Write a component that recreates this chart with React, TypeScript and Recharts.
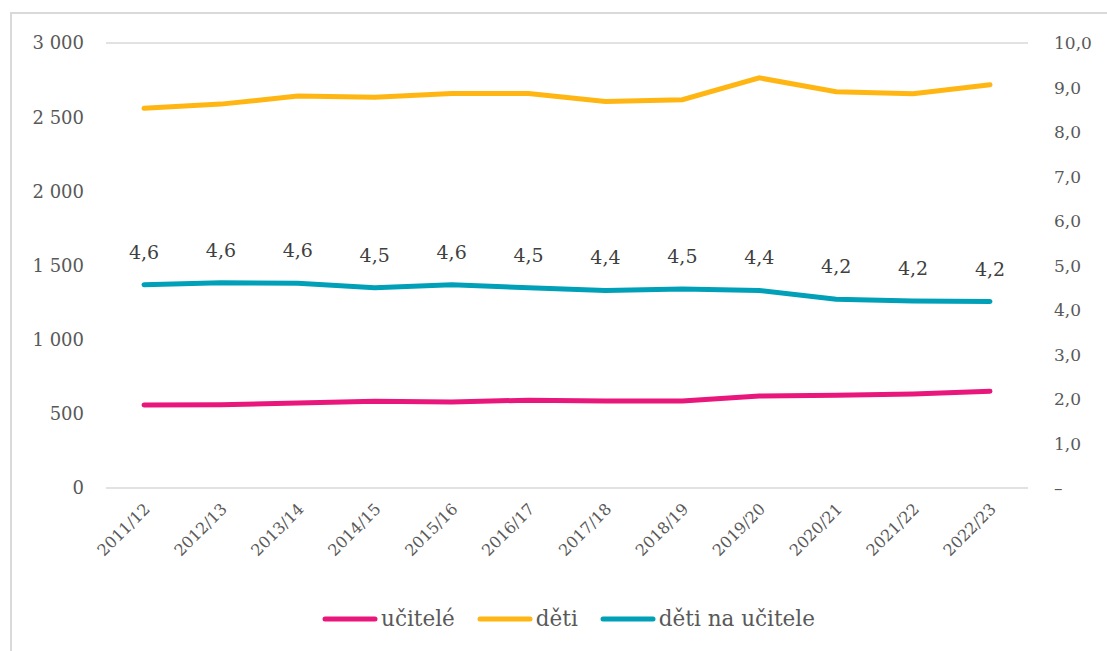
import React from "react";
import { LineChart, Line, XAxis, YAxis, CartesianGrid, Legend, LabelList } from "recharts";

const categories = ["2011/12", "2012/13", "2013/14", "2014/15", "2015/16", "2016/17", "2017/18", "2018/19", "2019/20", "2020/21", "2021/22", "2022/23"];
const ucitele = [560, 562, 573, 584, 580, 592, 586, 586, 620, 626, 634, 652];
const deti = [2560, 2588, 2642, 2635, 2660, 2660, 2605, 2618, 2765, 2672, 2658, 2718];
const detiNaUcitele = [4.57, 4.61, 4.6, 4.5, 4.57, 4.5, 4.44, 4.47, 4.44, 4.24, 4.2, 4.19];
const leftTicks = [0, 500, 1000, 1500, 2000, 2500, 3000];
const rightTicks = [0, 1, 2, 3, 4, 5, 6, 7, 8, 9, 10];

const data = categories.map((c, i) => ({
  cat: c,
  ucitele: ucitele[i],
  deti: deti[i],
  ratio: detiNaUcitele[i],
}));

const FONT = "'DejaVu Serif', 'Liberation Serif', serif";
const PINK = "#E9177B";
const YELLOW = "#FFB612";
const TEAL = "#00A0B8";

const fmtLeft = (v: number) => (v >= 1000 ? `${Math.floor(v / 1000)} ${String(v % 1000).padStart(3, "0")}` : String(v));
const fmtRight = (v: number) => (v === 0 ? "–" : v.toFixed(1).replace(".", ","));
const fmtLabel = (v: any) => Number(v).toFixed(1).replace(".", ",");

const XTick = (props: any) => {
  const { x, y, payload } = props;
  return (
    <g transform={`translate(${x + 7},${y + 14})`}>
      <text transform="rotate(-45)" textAnchor="end" fill="#595959" fontSize={16} fontFamily={FONT}>
        {payload.value}
      </text>
    </g>
  );
};

const LegendContent = (props: any) => {
  const items = [
    { label: "učitelé", color: PINK },
    { label: "děti", color: YELLOW },
    { label: "děti na učitele", color: TEAL },
  ];
  return (
    <div style={{ display: "flex", justifyContent: "center", alignItems: "center", fontFamily: FONT, fontSize: 21.5, color: "#595959" }}>
      {items.map((it, i) => (
        <div key={i} style={{ display: "flex", alignItems: "center", marginRight: i < 2 ? 22 : 0 }}>
          <svg width={56} height={10} style={{ marginRight: 3 }}>
            <line x1={3} y1={5} x2={53} y2={5} stroke={it.color} strokeWidth={5} strokeLinecap="round" />
          </svg>
          <span>{it.label}</span>
        </div>
      ))}
    </div>
  );
};

export default function App() {
  return (
    <div style={{ position: "absolute", left: 0, top: 0, width: 1107, height: 651, background: "#fff", overflow: "hidden" }}>
      <div style={{ position: "absolute", left: 10, top: 12, width: 1200, height: 700, borderLeft: "2px solid #d9d9d9", borderTop: "2px solid #d9d9d9" }} />
      <LineChart width={1107} height={651} data={data} margin={{ top: 43, right: 0, bottom: 73, left: 0 }}>
        <CartesianGrid vertical={false} stroke="#d9d9d9" strokeWidth={1.5} />
        <XAxis dataKey="cat" tick={<XTick />} tickLine={false} axisLine={false} height={90} interval={0} padding={{ left: 38, right: 38 }} />
        <YAxis
          yAxisId="left"
          width={106}
          domain={[0, 3000]}
          ticks={leftTicks}
          tickFormatter={fmtLeft}
          tickLine={false}
          axisLine={false}
          tickMargin={16}
          tick={{ fill: "#595959", fontSize: 18, fontFamily: FONT }}
        />
        <YAxis
          yAxisId="right"
          orientation="right"
          width={79}
          domain={[0, 10]}
          ticks={rightTicks}
          tickFormatter={fmtRight}
          tickLine={false}
          axisLine={false}
          tickMargin={20}
          tick={{ fill: "#595959", fontSize: 17, fontFamily: FONT, textAnchor: "start" }}
        />
        <Legend
          layout="horizontal"
          verticalAlign="middle"
          align="center"
          wrapperStyle={{ top: 606, left: 30, width: 1077 }}
          content={<LegendContent />}
        />
        <Line yAxisId="left" type="linear" dataKey="ucitele" name="učitelé" stroke={PINK} strokeWidth={5} dot={false} isAnimationActive={false} strokeLinecap="round" />
        <Line yAxisId="left" type="linear" dataKey="deti" name="děti" stroke={YELLOW} strokeWidth={5} dot={false} isAnimationActive={false} strokeLinecap="round" />
        <Line yAxisId="right" type="linear" dataKey="ratio" name="děti na učitele" stroke={TEAL} strokeWidth={5} dot={false} isAnimationActive={false} strokeLinecap="round">
          <LabelList dataKey="ratio" position="top" offset={26} formatter={fmtLabel} fill="#404040" fontSize={19} fontFamily={FONT} />
        </Line>
      </LineChart>
    </div>
  );
}
